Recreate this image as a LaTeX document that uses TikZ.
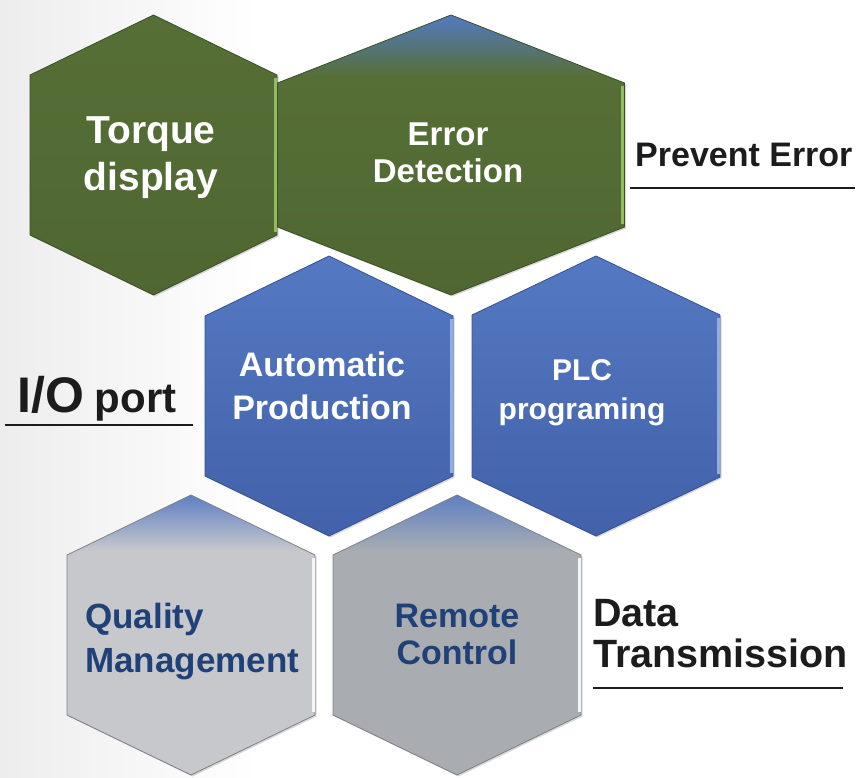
\documentclass[tikz,border=0pt]{standalone}
\usepackage{fontspec}
\setmainfont{Liberation Sans}
\usetikzlibrary{shadows}

\definecolor{bggray}{HTML}{EDEDED}
\definecolor{hexgreen}{HTML}{566F36}
\definecolor{greenedge}{HTML}{3B5023}
\definecolor{greenbevel}{HTML}{94BA62}
\definecolor{bluetop}{HTML}{5479C2}
\definecolor{bluebot}{HTML}{4261AA}
\definecolor{blueedge}{HTML}{34508F}
\definecolor{bluebevel}{HTML}{8FAEE2}
\definecolor{graylight}{HTML}{C7C8CC}
\definecolor{graydark}{HTML}{A9ADB2}
\definecolor{grayblue}{HTML}{5E80C3}
\definecolor{grayedge}{HTML}{7D8186}
\definecolor{graybevel}{HTML}{F4F4F4}
\definecolor{textblue}{HTML}{1F4178}
\definecolor{textdark}{HTML}{1C1C1C}

\pgfdeclarehorizontalshading{bgshade}{100bp}{color(0bp)=(bggray); color(25bp)=(bggray); color(40bp)=(white); color(100bp)=(white)}
\pgfdeclareverticalshading{greenshade}{100bp}{color(0bp)=(hexgreen!92!black); color(25bp)=(hexgreen!92!black); color(75bp)=(hexgreen); color(100bp)=(hexgreen)}
\pgfdeclareverticalshading{errorshade}{100bp}{color(0bp)=(hexgreen!92!black); color(25bp)=(hexgreen!92!black); color(64bp)=(hexgreen); color(75bp)=(bluetop); color(100bp)=(bluetop)}
\pgfdeclareverticalshading{blueshade}{100bp}{color(0bp)=(bluebot); color(25bp)=(bluebot); color(75bp)=(bluetop); color(100bp)=(bluetop)}
\pgfdeclareverticalshading{qualityshade}{100bp}{color(0bp)=(graylight); color(25bp)=(graylight); color(65bp)=(graylight); color(75bp)=(grayblue); color(100bp)=(grayblue)}
\pgfdeclareverticalshading{remoteshade}{100bp}{color(0bp)=(graydark); color(25bp)=(graydark); color(65bp)=(graydark); color(75bp)=(grayblue); color(100bp)=(grayblue)}

\tikzset{
  hexlabel/.style={text=white, align=center, inner sep=0pt},
  graylabel/.style={hexlabel, text=textblue},
  sidelabel/.style={text=textdark, align=left, inner sep=0pt},
  ruleline/.style={draw=textdark, line width=1.8pt},
  hexshadow/.style={drop shadow={opacity=.3, shadow xshift=1.5pt, shadow yshift=-1.5pt}}
}

\begin{document}
\begin{tikzpicture}[x=1pt, y=-1pt]
	\useasboundingbox (0,0) rectangle (861,778);
	%background
	\shade[shading=bgshade] (0,0) rectangle (861,778);
	%hexagons
	\foreach \cx/\cy/\w/\s/\shd/\edge/\bev in {
		153.5/155/123.5/80/greenshade/greenedge/greenbevel,
		451/155/173.5/72/errorshade/greenedge/greenbevel,
		329/396/124/80/blueshade/blueedge/bluebevel,
		596/396/124/81/blueshade/blueedge/bluebevel,
		191/635/124/80/qualityshade/grayedge/graybevel,
		457/635/124/80/remoteshade/grayedge/graybevel}
	{
		\shade[shading=\shd, draw=\edge, line width=.8pt, hexshadow]
		(\cx,\cy-140) -- (\cx+\w,\cy-\s) -- (\cx+\w,\cy+\s)
		-- (\cx,\cy+140) -- (\cx-\w,\cy+\s) -- (\cx-\w,\cy-\s) -- cycle;
		\draw[\bev, line width=3pt] (\cx+\w-2,\cy-\s+3) -- (\cx+\w-2,\cy+\s-3);
	}
	%hexagon labels
	\node[hexlabel, font=\bfseries\fontsize{39}{47}\selectfont] (torque) at (151,158) {Torque\\display};
	\node[hexlabel, anchor=south, font=\bfseries\fontsize{33}{37}\selectfont] (error) at (448,183) {Error\\Detection};
	\node[hexlabel, anchor=south, font=\bfseries\fontsize{34}{43}\selectfont] (auto) at (322,420) {Automatic\\Production};
	\node[hexlabel, font=\bfseries\fontsize{30}{39}\selectfont] (plc) at (582,393) {PLC\\programing};
	\node[graylabel, anchor=west, align=left, font=\bfseries\fontsize{35}{44}\selectfont] (quality) at (85,642) {Quality\\Management};
	\node[graylabel, anchor=south, font=\bfseries\fontsize{34}{37}\selectfont] (remote) at (457,665) {Remote\\Control};
	%side labels
	\node[sidelabel, anchor=base west, font=\bfseries\fontsize{34}{40}\selectfont] (prevent) at (635,167) {Prevent Error};
	\node[sidelabel, anchor=base west, font=\bfseries] (ioport) at (17,412)
	{{\fontsize{50}{56}\selectfont I/O}\hspace{11pt}{\fontsize{42}{48}\selectfont port}};
	\node[sidelabel, anchor=south west, font=\bfseries\fontsize{39.5}{41}\selectfont] (datatx) at (593,668) {Data\\Transmission};
	%rules
	\draw[ruleline] (630,188) -- (855,188);
	\draw[ruleline] (5,425) -- (193,425);
	\draw[ruleline] (593,688) -- (843,688);
\end{tikzpicture}
\end{document}
